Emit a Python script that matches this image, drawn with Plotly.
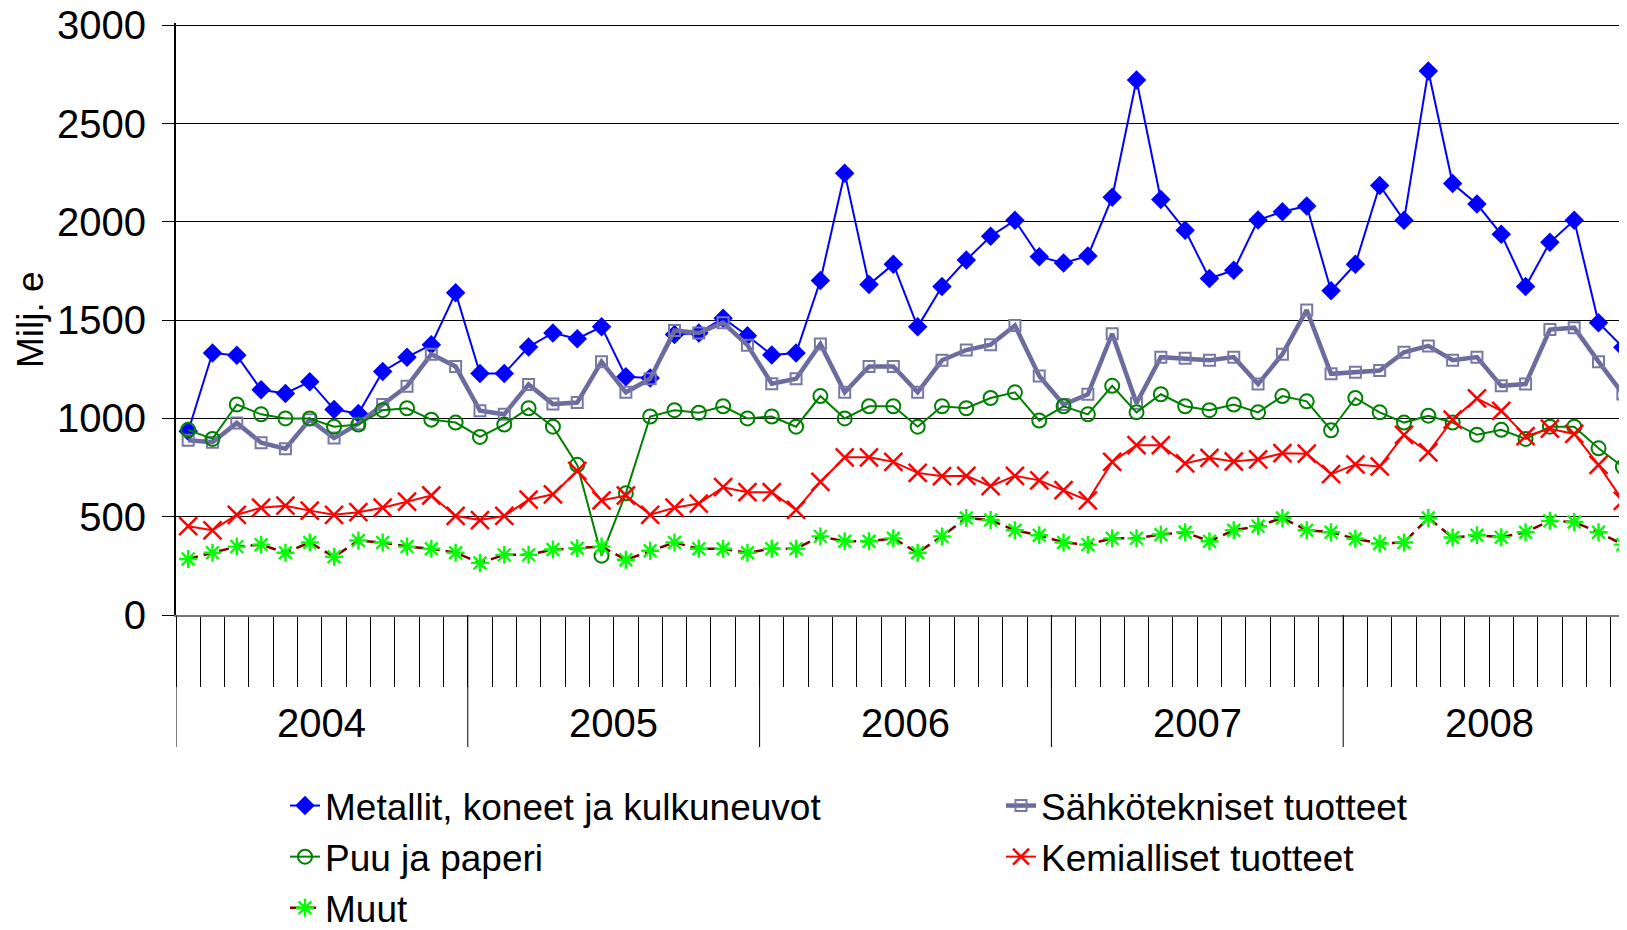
import plotly.graph_objects as go

years = ["2004", "2005", "2006", "2007", "2008"]
months = [f"{y}-{m:02d}" for y in years for m in range(1, 13)]

metallit = [935, 1333, 1321, 1146, 1127, 1187, 1046, 1025, 1239, 1312, 1375, 1639,
            1229, 1229, 1364, 1435, 1406, 1466, 1212, 1206, 1427, 1435, 1510, 1421,
            1323, 1333, 1702, 2248, 1681, 1785, 1466, 1671, 1806, 1927, 2008, 1823,
            1791, 1827, 2125, 2722, 2114, 1958, 1712, 1754, 2010, 2052, 2081, 1650,
            1785, 2185, 2008, 2768, 2195, 2091, 1937, 1671, 1896, 2008, 1487, 1362]
sahko = [889, 879, 977, 877, 846, 994, 900, 973, 1071, 1164, 1327, 1264,
         1039, 1021, 1173, 1073, 1081, 1289, 1133, 1202, 1448, 1435, 1487, 1373,
         1177, 1202, 1379, 1133, 1264, 1264, 1133, 1296, 1348, 1375, 1473, 1216,
         1071, 1123, 1431, 1077, 1312, 1306, 1296, 1312, 1175, 1327, 1552, 1227,
         1235, 1244, 1337, 1369, 1296, 1312, 1166, 1175, 1452, 1462, 1289, 1125]
puu = [942, 896, 1071, 1021, 1000, 1000, 958, 969, 1042, 1052, 994, 979,
       906, 969, 1052, 958, 764, 302, 619, 1010, 1042, 1029, 1062, 1000,
       1010, 958, 1114, 1000, 1062, 1062, 958, 1062, 1052, 1104, 1133, 989,
       1062, 1021, 1166, 1031, 1123, 1062, 1042, 1071, 1031, 1114, 1087, 940,
       1104, 1031, 979, 1014, 979, 917, 942, 896, 958, 958, 848, 754]
kemialliset = [452, 431, 510, 546, 556, 531, 510, 523, 546, 577, 608, 504,
               483, 504, 587, 614, 733, 583, 608, 510, 546, 567, 650, 625,
               625, 535, 677, 802, 802, 779, 723, 706, 708, 656, 708, 685,
               635, 583, 779, 864, 864, 771, 800, 781, 792, 823, 821, 717,
               766, 756, 917, 827, 994, 1102, 1039, 910, 948, 921, 764, 581]
muut = [285, 317, 348, 358, 317, 369, 296, 379, 369, 348, 337, 317,
        265, 306, 306, 333, 340, 348, 281, 327, 369, 337, 337, 317,
        337, 337, 400, 375, 375, 390, 317, 400, 494, 483, 431, 406,
        369, 358, 390, 390, 410, 421, 375, 431, 452, 494, 431, 421,
        388, 364, 369, 494, 394, 406, 396, 421, 479, 473, 421, 358]

y_ticks = [0, 500, 1000, 1500, 2000, 2500, 3000]

FONT = "Liberation Sans, Arial, sans-serif"
FS_AX = 40
FS_LEG = 37

W, H = 1627, 930
# page offset of the figure (browser default body margin)
OFF = 8
plot_left, plot_top, plot_bottom = 176 - OFF, 23 - OFF, 615 - OFF
plot_h = plot_bottom - plot_top
plot_w = W - plot_left

def py(pix_page):
    return (plot_bottom + OFF - pix_page) / plot_h

fig = go.Figure()
fig.add_trace(go.Scatter(
    x=months, y=metallit, name="Metallit, koneet ja kulkuneuvot", mode="lines+markers",
    line=dict(color="#0000FF", width=2),
    marker=dict(symbol="diamond", size=15, color="#0000FF", line=dict(width=0))))
fig.add_trace(go.Scatter(
    x=months, y=sahko, name="Sähkötekniset tuotteet", mode="lines+markers",
    line=dict(color="#6B6B9E", width=4.5),
    marker=dict(symbol="square-open", size=11, color="#7878A8", line=dict(width=2))))
fig.add_trace(go.Scatter(
    x=months, y=puu, name="Puu ja paperi", mode="lines+markers",
    line=dict(color="#008000", width=2),
    marker=dict(symbol="circle-open", size=14, color="#008000", line=dict(width=2))))
fig.add_trace(go.Scatter(
    x=months, y=kemialliset, name="Kemialliset tuotteet", mode="lines+markers",
    line=dict(color="#FF0000", width=2),
    marker=dict(symbol="x-thin-open", size=18, color="#FF0000", line=dict(width=2.5))))
fig.add_trace(go.Scatter(
    x=months, y=muut, name="Muut", mode="lines+markers",
    line=dict(color="#800000", width=2.5, dash="10px,6px"),
    marker=dict(symbol="asterisk-open", size=15, color="#00FF00", line=dict(width=2.4))))

shapes = []
for i in range(len(years) + 1):
    xb = i * 12 - 0.5
    if xb > len(months) - 0.5:
        continue
    shapes.append(dict(type="line", xref="x", yref="paper", x0=xb, x1=xb,
                       y0=0, y1=py(747), line=dict(color="#000000", width=1)))

annotations = []
for i, yr in enumerate(years):
    annotations.append(dict(x=i * 12 + 5.5, y=py(723), xref="x", yref="paper",
                            text=yr, showarrow=False, xanchor="center", yanchor="middle",
                            font=dict(family=FONT, size=FS_AX, color="#000000")))
annotations.append(dict(x=(22 - plot_left) / plot_w, y=py(320), xref="paper", yref="paper",
                        text="Milj. e", showarrow=False, textangle=-90,
                        xanchor="center", yanchor="middle",
                        font=dict(family=FONT, size=FS_LEG, color="#000000")))

fig.update_layout(
    width=W, height=H,
    margin=dict(l=plot_left, r=0, t=plot_top, b=H - plot_bottom, autoexpand=False),
    paper_bgcolor="white", plot_bgcolor="white",
    font=dict(family=FONT, size=FS_AX, color="#000000"),
    showlegend=True,
    legend=dict(orientation="h", xref="paper", x=(285 - OFF - plot_left) / plot_w, xanchor="left",
                yref="container", y=1 - (775 - OFF) / H, yanchor="top",
                font=dict(family=FONT, size=FS_LEG), entrywidth=671, entrywidthmode="pixels",
                bgcolor="rgba(0,0,0,0)", traceorder="normal"),
    shapes=shapes,
    annotations=annotations,
)
fig.update_xaxes(
    type="category", range=[-0.5, len(months) - 0.5], showticklabels=False,
    tickson="boundaries", ticks="outside", ticklen=70, tickwidth=1, tickcolor="#000000",
    showgrid=False, showline=True, linecolor="#777777", linewidth=2, zeroline=False)
fig.update_yaxes(
    range=[0, 3012], tickvals=y_ticks, ticks="outside", ticklen=12, tickwidth=1,
    tickcolor="#000000", showgrid=True, gridcolor="#000000", gridwidth=1,
    showline=True, linecolor="#000000", linewidth=2, zeroline=False,
    ticklabelstandoff=8, ticklabeloverflow="allow", tickfont=dict(family=FONT, size=FS_AX))

fig.write_html("out.html")
